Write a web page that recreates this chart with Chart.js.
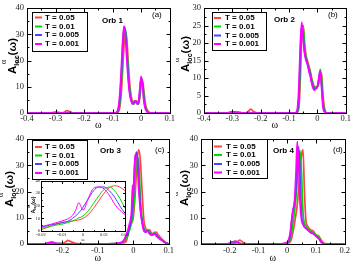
<!DOCTYPE html>
<html>
<head>
<meta charset="utf-8">
<script src="https://cdn.jsdelivr.net/npm/chart.js@4.4.0/dist/chart.umd.min.js"></script>
<style>
html, body { margin: 0; padding: 0; background: #fff; }
#wrap { position: relative; width: 352px; height: 272px; overflow: hidden; }
canvas { position: absolute; }
</style>
</head>
<body>
<div id="wrap">
  <canvas id="pa" width="176" height="131" style="left:0;top:0"></canvas>
  <canvas id="pb" width="176" height="131" style="left:176px;top:0"></canvas>
  <canvas id="pc" width="176" height="141" style="left:0;top:131px"></canvas>
  <canvas id="pd" width="176" height="141" style="left:176px;top:131px"></canvas>
  <canvas id="pi" width="102" height="66" style="left:28px;top:177px"></canvas>
</div>
<script>
const LABELS = ['T = 0.05', 'T = 0.01', 'T = 0.005', 'T = 0.001'];
const COLORS = ['#ff4444', '#00d800', '#4646ff', '#ff00ff'];

// Orb 1
const omega1 = [-0.4, -0.32, -0.3, -0.28, -0.27, -0.26, -0.25, -0.24, -0.2, -0.12, -0.09, -0.085, -0.08, -0.075, -0.07, -0.065, -0.06, -0.055, -0.05, -0.045, -0.04, -0.035, -0.03, -0.025, -0.02, -0.015, -0.01, -0.005, 0, 0.005, 0.01, 0.015, 0.02, 0.025, 0.03, 0.04, 0.05, 0.1];
const orb1T05  = [0, 0, 0, 0, 0.3, 0.9, 0.5, 0.1, 0, 0, 0, 0.05, 0.4, 2, 7, 16, 26, 31, 28, 19, 11, 6.5, 4, 3.5, 4.5, 4.5, 3.5, 5.5, 11, 12, 8, 3.5, 1.5, 0.6, 0.2, 0, 0, 0];
const orb1T01  = [0, 0, 0.1, 0, 0, 0, 0, 0, 0, 0, 0, 0.1, 0.8, 3.5, 10, 21, 31, 32, 25, 16, 9, 5.5, 3.5, 3.5, 4.5, 4, 3.3, 6.5, 13, 12, 6, 2.5, 1, 0.3, 0.1, 0, 0, 0];
const orb1T005 = [0, 0, 0.2, 0.1, 0, 0, 0, 0, 0, 0, 0.05, 0.2, 1.2, 5, 13, 24, 33, 31, 23, 14, 8, 5, 3.5, 4, 4.5, 3.8, 3.5, 7.5, 13.5, 11, 5, 2, 0.7, 0.2, 0, 0, 0, 0];
const orb1T001 = [0, 0, 0.3, 0.1, 0, 0, 0, 0, 0, 0, 0.1, 0.4, 2, 7, 16, 27, 33, 29, 20, 12, 7, 4.5, 3.5, 4.5, 4.5, 3.5, 4, 9, 14, 10, 4, 1.5, 0.5, 0.1, 0, 0, 0, 0];

// Orb 2
const omega2 = [-0.4, -0.32, -0.3, -0.28, -0.26, -0.245, -0.235, -0.225, -0.21, -0.2, -0.12, -0.08, -0.075, -0.07, -0.065, -0.06, -0.055, -0.05, -0.045, -0.04, -0.035, -0.03, -0.025, -0.02, -0.015, -0.01, -0.005, 0, 0.005, 0.01, 0.015, 0.02, 0.025, 0.03, 0.035, 0.05, 0.1];
const orb2T05  = [0, 0, 0, 0, 0, 0.3, 1.1, 0.4, 0, 0, 0, 0, 0, 0.2, 1.5, 10, 22, 25, 20, 16.5, 15, 13.5, 12, 10, 8.5, 7.5, 7.5, 7.5, 8.5, 11.5, 11, 5, 1.5, 0.3, 0, 0, 0];
const orb2T01  = [0, 0, 0.2, 0.1, 0, 0, 0, 0, 0, 0, 0, 0, 0.05, 0.4, 3, 14, 24, 25, 19, 16, 14.5, 13, 11.5, 9.5, 8, 7.5, 7, 7.5, 9, 12.5, 10, 3.5, 0.8, 0.1, 0, 0, 0];
const orb2T005 = [0, 0, 0.3, 0.2, 0, 0, 0, 0, 0, 0, 0, 0, 0.1, 0.8, 5, 17, 25, 22, 17.5, 15.5, 14, 12.5, 11, 9, 7.5, 7, 7, 7.5, 9.5, 12, 8, 2.5, 0.5, 0, 0, 0, 0];
const orb2T001 = [0, 0, 0.3, 0.2, 0, 0, 0, 0, 0, 0, 0, 0, 0.2, 1.5, 8, 20, 26, 21, 17, 15, 14, 12, 10.5, 8.5, 7, 6.5, 7, 7.5, 10, 12, 7, 1.5, 0.3, 0, 0, 0, 0];

// Orb 3
const omega3 = [-0.3, -0.25, -0.235, -0.228, -0.22, -0.2, -0.19, -0.185, -0.178, -0.16, -0.1, -0.05, -0.03, -0.02, -0.01, -0.005, -0.002, 0, 0.005, 0.01, 0.015, 0.02, 0.025, 0.03, 0.035, 0.04, 0.045, 0.05, 0.055, 0.06, 0.065, 0.07, 0.08, 0.09, 0.1];
const orb3T05  = [0, 0, 0.1, 0.1, 0.1, 0.3, 0.9, 1.4, 1.0, 0.2, 0.1, 0.1, 0.4, 1, 7, 8, 8.8, 10, 18, 30, 36, 32, 20, 9, 6, 5, 5.5, 4.5, 4, 4, 4.5, 3.5, 2, 0.8, 0.1];
const orb3T01  = [0, 0.1, 0.3, 0.3, 0.2, 0.1, 0, 0, 0, 0.1, 0.1, 0.2, 0.7, 2, 5.5, 8, 10, 12, 22, 33, 32, 18, 9.5, 6, 5, 5.5, 4.5, 4, 3.5, 4.5, 3.5, 3, 1.8, 0.6, 0];
const orb3T005 = [0, 0.1, 0.5, 0.6, 0.3, 0.1, 0, 0, 0, 0.1, 0.1, 0.2, 0.9, 3, 6.5, 10, 14, 19, 32, 35, 27, 14, 8.5, 5.5, 4.5, 5, 4.5, 3.5, 3.5, 4, 3.5, 2.5, 1.5, 0.5, 0];
const orb3T001 = [0, 0.1, 0.6, 0.7, 0.3, 0.1, 0, 0, 0, 0.1, 0.1, 0.2, 0.8, 3.4, 8, 12.5, 22.5, 16.5, 34, 33.5, 21.5, 13, 8, 5, 4.5, 5, 4, 3.5, 3.5, 4, 3, 2.5, 1.5, 0.5, 0];

// Orb 3, inset close-up
const omegaIn = [-0.02, -0.015, -0.01, -0.0075, -0.005, -0.0035, -0.002, -0.001, 0, 0.0025, 0.005, 0.0075, 0.01, 0.0125, 0.015, 0.0175, 0.02];
const inT05  = [1, 4, 7, 7.5, 8, 8.3, 8.8, 9.3, 10, 13, 18, 24, 30, 34.5, 36, 35, 32];
const inT01  = [2, 4, 5.5, 6.5, 8, 9, 10.5, 11, 12, 16, 22, 28, 33, 35, 32, 26, 18];
const inT005 = [3, 5, 6.5, 7.5, 10, 12, 14.5, 16.5, 19, 25.5, 32, 35, 35, 32, 27, 20, 14];
const inT001 = [3.4, 5.5, 8, 9.5, 12.5, 16.5, 22.5, 19.5, 16.5, 26, 34, 35, 33.5, 28.5, 21.5, 16.5, 13];

// Orb 4
const omega4 = [-0.3, -0.22, -0.2, -0.19, -0.18, -0.17, -0.165, -0.16, -0.15, -0.14, -0.1, -0.02, 0, 0.01, 0.015, 0.02, 0.025, 0.03, 0.035, 0.04, 0.045, 0.05, 0.055, 0.06, 0.065, 0.07, 0.08, 0.09, 0.1, 0.11, 0.12, 0.13, 0.2];
const orb4T05  = [0, 0, 0, 0.1, 0.4, 1.2, 1.5, 1.2, 0.4, 0.1, 0, 0, 0.2, 0.8, 2, 4.5, 7.5, 11, 15, 21, 29, 34, 36, 20, 9, 7, 5.5, 5, 3.5, 3, 1.2, 0.2, 0];
const orb4T01  = [0, 0, 0.1, 0.3, 0.5, 0.4, 0.2, 0.1, 0, 0, 0, 0.1, 0.3, 1.5, 4, 8, 12, 17, 24, 32, 35.5, 27, 12, 8, 7, 6, 5, 4.5, 3.5, 2.5, 0.8, 0.1, 0];
const orb4T005 = [0, 0, 0.3, 0.8, 1, 0.6, 0.2, 0.1, 0, 0, 0, 0.1, 0.5, 3, 8, 12.5, 15, 20, 30, 37, 25, 11, 8, 6.5, 6, 5.5, 4.5, 4, 3, 2, 0.5, 0, 0];
const orb4T001 = [0, 0, 0.3, 0.8, 1, 0.5, 0.2, 0.1, 0, 0, 0, 0.1, 0.7, 4, 9, 13, 16, 26, 39, 30, 15, 9, 7.5, 6.5, 6, 5.5, 4.5, 4, 3, 2, 0.5, 0, 0];

const SERIF = "'Liberation Serif', 'DejaVu Serif', serif";
const SANS = "'Liberation Sans', Arial, sans-serif";

// box round the plot with inward major/minor ticks on all four sides
const frameTicks = {
  id: 'frameTicks',
  beforeDatasetsDraw(chart, args, o) {
    if (!o.fill) return;
    const a = chart.chartArea;
    chart.ctx.save();
    chart.ctx.fillStyle = '#fff';
    chart.ctx.fillRect(a.left, a.top, a.right - a.left, a.bottom - a.top);
    chart.ctx.restore();
  },
  afterDatasetsDraw(chart, args, o) {
    const { ctx, chartArea: a, scales } = chart;
    const sx = scales.x, sy = scales.y;
    const L = Math.round(a.left) + 0.5, R = Math.round(a.right) + 0.5;
    const T = Math.round(a.top) + 0.5, B = Math.round(a.bottom) + 0.5;
    ctx.save();
    ctx.strokeStyle = '#000';
    ctx.lineWidth = 1;
    ctx.strokeRect(L, T, R - L, B - T);
    ctx.beginPath();
    const nx = Math.round((sx.max - sx.min) / o.xMinor);
    for (let i = 0; i <= nx; i++) {
      const v = sx.min + i * o.xMinor;
      const major = Math.abs(v / o.xMajor - Math.round(v / o.xMajor)) < 1e-6;
      const len = major ? o.major : o.minor;
      const px = Math.round(sx.getPixelForValue(v)) + 0.5;
      ctx.moveTo(px, B); ctx.lineTo(px, B - len);
      ctx.moveTo(px, T); ctx.lineTo(px, T + len);
    }
    const ny = Math.round((sy.max - sy.min) / o.yMinor);
    for (let i = 0; i <= ny; i++) {
      const v = sy.min + i * o.yMinor;
      const major = Math.abs(v / o.yMajor - Math.round(v / o.yMajor)) < 1e-6;
      const len = major ? o.major : o.minor;
      const py = Math.round(sy.getPixelForValue(v)) + 0.5;
      ctx.moveTo(L, py); ctx.lineTo(L + len, py);
      ctx.moveTo(R, py); ctx.lineTo(R - len, py);
    }
    ctx.stroke();
    ctx.restore();
  }
};

// legend box, panel notes and the rotated A_loc^α(ω) axis title
const panelText = {
  id: 'panelText',
  afterDatasetsDraw(chart, args, o) {
    const ctx = chart.ctx;
    ctx.save();
    if (o.legend) {
      const L = o.legend;
      ctx.fillStyle = '#fff';
      ctx.fillRect(L.x, L.y, L.w, L.h);
      ctx.strokeStyle = '#000';
      ctx.lineWidth = 1;
      ctx.strokeRect(L.x + 0.5, L.y + 0.5, L.w, L.h);
      ctx.font = 'bold 8px ' + SANS;
      ctx.textBaseline = 'middle';
      ctx.textAlign = 'left';
      chart.data.datasets.forEach((ds, i) => {
        const yy = L.rows[i];
        ctx.strokeStyle = ds.borderColor;
        ctx.lineWidth = 2;
        ctx.beginPath();
        ctx.moveTo(L.x0, yy);
        ctx.lineTo(L.x1, yy);
        ctx.stroke();
        ctx.fillStyle = '#000';
        ctx.fillText(ds.label, L.tx, yy);
      });
    }
    (o.notes || []).forEach(n => {
      ctx.font = n.font;
      ctx.fillStyle = '#000';
      ctx.textAlign = 'left';
      ctx.textBaseline = 'middle';
      ctx.fillText(n.text, n.x, n.y);
    });
    if (o.ytitle) {
      const t = o.ytitle, s = t.size, s2 = s * 0.62;
      const big = 'bold ' + s + 'px ' + SANS;
      const small = 'bold ' + s2 + 'px ' + SANS;
      ctx.font = big;
      const wA = ctx.measureText('A').width;
      const wP = ctx.measureText('(ω)').width;
      ctx.font = small;
      const wS = Math.max(ctx.measureText('loc').width, ctx.measureText('α').width);
      const total = wA + wS + wP;
      ctx.translate(t.x, t.y);
      ctx.rotate(-Math.PI / 2);
      ctx.fillStyle = '#000';
      ctx.textAlign = 'left';
      ctx.textBaseline = 'alphabetic';
      let px = -total / 2;
      ctx.font = big;
      ctx.fillText('A', px, 0);
      px += wA;
      ctx.font = small;
      ctx.fillText('loc', px, s * 0.22);
      ctx.font = (s * 0.75) + 'px ' + SERIF;
      ctx.fillText('α', px + 1.5, -s * 0.9);
      px += wS;
      ctx.font = big;
      ctx.fillText('(ω)', px, 0);
    }
    ctx.restore();
  }
};

function fmtTick(v) {
  return String(Number(v.toFixed(3)));
}

function makePanel(id, omega, series, cfg) {
  return new Chart(document.getElementById(id), {
    type: 'line',
    data: {
      datasets: series.map((s, i) => ({
        label: LABELS[i],
        data: omega.map((w, k) => ({ x: w, y: s[k] })),
        borderColor: COLORS[i],
        backgroundColor: COLORS[i],
        borderWidth: cfg.lw,
        pointRadius: 0,
        cubicInterpolationMode: 'monotone',
        fill: false,
        order: 4 - i
      }))
    },
    options: {
      responsive: false,
      animation: false,
      devicePixelRatio: 1,
      events: [],
      layout: { autoPadding: false, padding: { top: cfg.padTop, right: cfg.padRight, left: 0, bottom: 0 } },
      plugins: {
        legend: { display: false },
        tooltip: { enabled: false },
        frameTicks: { xMajor: cfg.xStep, xMinor: cfg.xStep / 2, yMajor: cfg.yStep, yMinor: cfg.yStep / 2,
                      major: cfg.tick, minor: cfg.tick / 2, fill: !!cfg.fill },
        panelText: { legend: cfg.legend, notes: cfg.notes, ytitle: cfg.ytitle }
      },
      scales: {
        x: {
          type: 'linear', min: cfg.xMin, max: cfg.xMax,
          grid: { display: false, drawTicks: false }, border: { display: false },
          ticks: {
            stepSize: cfg.xStep, autoSkip: false, maxRotation: 0, padding: cfg.xPad,
            color: '#222', font: { family: SERIF, size: cfg.fs },
            callback: (v, i) => (cfg.hideFirst && i === 0) ? '' : fmtTick(v)
          },
          title: { display: true, text: 'ω', color: '#000', font: { family: SERIF, size: cfg.ts, lineHeight: 1.1 },
                   padding: { top: 0, bottom: cfg.titlePad } },
          afterFit: s => { s.height = cfg.xH; }
        },
        y: {
          min: 0, max: cfg.yMax,
          grid: { display: false, drawTicks: false }, border: { display: false },
          ticks: { stepSize: cfg.yStep, padding: cfg.yPad, color: '#222', font: { family: SERIF, size: cfg.fs } },
          afterFit: s => { s.width = cfg.yW; }
        }
      }
    },
    plugins: [frameTicks, panelText]
  });
}

const base = { lw: 1.7, padTop: 5, xStep: 0.1, tick: 4, fs: 8.5, ts: 10, xPad: 1, yPad: 3 };

makePanel('pa', omega1, [orb1T05, orb1T01, orb1T005, orb1T001], Object.assign({}, base, {
  xMin: -0.4, xMax: 0.1, yMax: 40, yStep: 10, padRight: 3, yW: 27, xH: 18, titlePad: 0,
  legend: { x: 32, y: 12, w: 55, h: 39, rows: [17.5, 26.5, 35, 44], x0: 35, x1: 42, tx: 45 },
  notes: [{ text: 'Orb 1', x: 102, y: 21, font: 'bold 8px ' + SANS }, { text: '(a)', x: 152, y: 15, font: '8px ' + SANS }],
  ytitle: { x: 16, y: 56, size: 11.5 }
}));

makePanel('pb', omega2, [orb2T05, orb2T01, orb2T005, orb2T001], Object.assign({}, base, {
  xMin: -0.4, xMax: 0.1, yMax: 30, yStep: 5, padRight: 3, yW: 28, xH: 18, titlePad: 0,
  legend: { x: 36, y: 12, w: 54, h: 38, rows: [18, 26.5, 35.5, 44], x0: 38, x1: 45, tx: 49 },
  notes: [{ text: 'Orb 2', x: 98, y: 20, font: 'bold 8px ' + SANS }, { text: '(b)', x: 152, y: 15, font: '8px ' + SANS }],
  ytitle: { x: 13, y: 54, size: 11.5 }
}));

makePanel('pc', omega3, [orb3T05, orb3T01, orb3T005, orb3T001], Object.assign({}, base, {
  xMin: -0.3, xMax: 0.1, yMax: 40, yStep: 10, padRight: 4, yW: 27, xH: 28, titlePad: 8, xPad: 2, hideFirst: true,
  legend: { x: 32, y: 9, w: 55, h: 39, rows: [16, 24.5, 33, 42], x0: 35, x1: 42, tx: 45 },
  notes: [{ text: 'Orb 3', x: 100, y: 20, font: 'bold 8px ' + SANS }, { text: '(c)', x: 155, y: 19, font: '8px ' + SANS }],
  ytitle: { x: 13, y: 58, size: 11.5 }
}));

makePanel('pd', omega4, [orb4T05, orb4T01, orb4T005, orb4T001], Object.assign({}, base, {
  xMin: -0.3, xMax: 0.2, yMax: 40, yStep: 10, padRight: 5, yW: 25, xH: 28, titlePad: 8, xPad: 2, hideFirst: true,
  legend: { x: 36, y: 8, w: 55, h: 39, rows: [15.5, 24, 33, 41.5], x0: 38, x1: 46, tx: 50 },
  notes: [{ text: 'Orb 4', x: 97, y: 20, font: 'bold 8px ' + SANS }, { text: '(d)', x: 157, y: 19, font: '8px ' + SANS }],
  ytitle: { x: 12, y: 57, size: 11.5 }
}));

makePanel('pi', omegaIn, [inT05, inT01, inT005, inT001], {
  lw: 1, padTop: 3, xStep: 0.01, tick: 2.5, fs: 4.5, ts: 4.5, xPad: 1, yPad: 1,
  xMin: -0.02, xMax: 0.02, yMax: 40, yStep: 10, padRight: 2, yW: 13, xH: 12, titlePad: 1, fill: true,
  ytitle: { x: 7, y: 28, size: 5.5 }
});
</script>
</body>
</html>
